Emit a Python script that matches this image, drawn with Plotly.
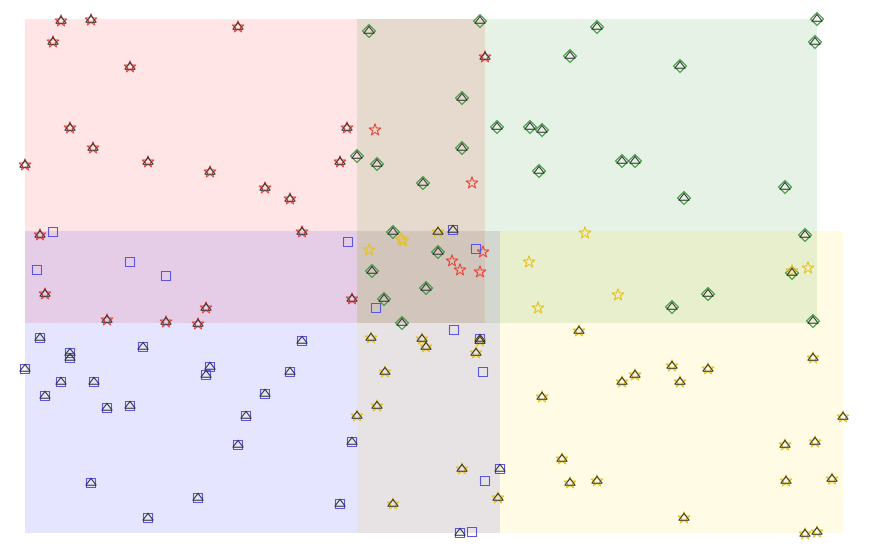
import plotly.graph_objects as go

# point positions (x, y) per group; "in" = flagged points (drawn with triangle overlay)
red_in = [(61, 20), (91, 19), (238, 26), (53, 41), (130, 66), (485, 56), (70, 127), (347, 127),
          (93, 147), (25, 164), (148, 161), (210, 171), (340, 161), (265, 187), (290, 198),
          (40, 234), (302, 231), (45, 293), (206, 307), (352, 298), (107, 319), (166, 321), (198, 323)]
red_out = [(375, 129), (472, 182), (483, 251), (452, 260), (460, 269), (480, 271)]

green_in = [(369, 30), (480, 20), (817, 18), (597, 26), (570, 55), (680, 65), (815, 41), (462, 97),
            (497, 126), (530, 126), (542, 129), (462, 147), (357, 155), (377, 163), (622, 160),
            (635, 160), (539, 170), (423, 182), (684, 197), (785, 186), (393, 231), (805, 234),
            (438, 251), (372, 270), (792, 272), (426, 287), (384, 298), (708, 293), (672, 306),
            (402, 322), (813, 320)]
green_out = []

blue_in = [(453, 229), (40, 337), (70, 352), (70, 357), (143, 346), (302, 340), (25, 368), (61, 381),
           (94, 381), (210, 366), (206, 374), (290, 371), (45, 395), (107, 407), (130, 405),
           (265, 393), (246, 415), (480, 338), (238, 444), (352, 441), (500, 468), (91, 482),
           (198, 497), (340, 503), (148, 517), (460, 532)]
blue_out = [(53, 231), (348, 241), (37, 269), (130, 261), (166, 275), (376, 307), (476, 248),
            (454, 329), (483, 371), (485, 480), (472, 531)]

yellow_in = [(438, 231), (579, 330), (371, 337), (422, 338), (426, 346), (476, 352), (480, 340),
             (813, 357), (672, 365), (708, 368), (635, 374), (622, 381), (680, 381), (385, 371),
             (542, 396), (377, 405), (357, 415), (843, 416), (815, 441), (785, 444), (562, 458),
             (462, 468), (570, 482), (597, 480), (786, 480), (832, 478), (498, 497), (393, 503),
             (684, 517), (805, 533), (817, 531)]
yellow_out = [(369, 249), (401, 238), (403, 240), (529, 261), (585, 232), (538, 307), (618, 294),
              (808, 267), (792, 270)]

# region boxes: x0, x1, y0, y1
regions = {
    "red": (25, 485, 18, 322),
    "green": (357, 817, 18, 322),
    "blue": (25, 500, 230, 532),
    "yellow": (357, 843, 230, 532),
}

groups = [
    ("red", red_in + red_out, "star-open", "#e8443a", "rgba(255,0,0,0.1)"),
    ("green", green_in + green_out, "diamond-open", "#3c9a3c", "rgba(0,128,0,0.1)"),
    ("blue", blue_in + blue_out, "square-open", "#5b55e6", "rgba(0,0,255,0.1)"),
    ("yellow", yellow_in + yellow_out, "star-open", "#e6c21a", "rgba(255,215,0,0.1)"),
]

fig = go.Figure()
for name, pts, sym, col, fill in groups:
    x0, x1, y0, y1 = regions[name]
    fig.add_shape(type="rect", x0=x0, x1=x1, y0=y0, y1=y1, fillcolor=fill,
                  line_width=0, layer="below")
    fig.add_trace(go.Scatter(x=[p[0] for p in pts], y=[p[1] for p in pts], mode="markers",
                             marker=dict(symbol=sym, size=10 if sym == "diamond-open" else 9,
                                         color=col, line_width=1.1), showlegend=False))

flagged = red_in + green_in + blue_in + yellow_in
fig.add_trace(go.Scatter(x=[p[0] for p in flagged], y=[p[1] for p in flagged], mode="markers",
                         marker=dict(symbol="triangle-up-open", size=9, color="#333333",
                                     line_width=1.1), showlegend=False))

fig.update_xaxes(range=[8, 881], visible=False)
fig.update_yaxes(range=[559, 7], visible=False)
fig.update_layout(width=873, height=552, margin=dict(l=0, r=0, t=0, b=0),
                  plot_bgcolor="white", paper_bgcolor="white")
fig.write_html("out.html")
